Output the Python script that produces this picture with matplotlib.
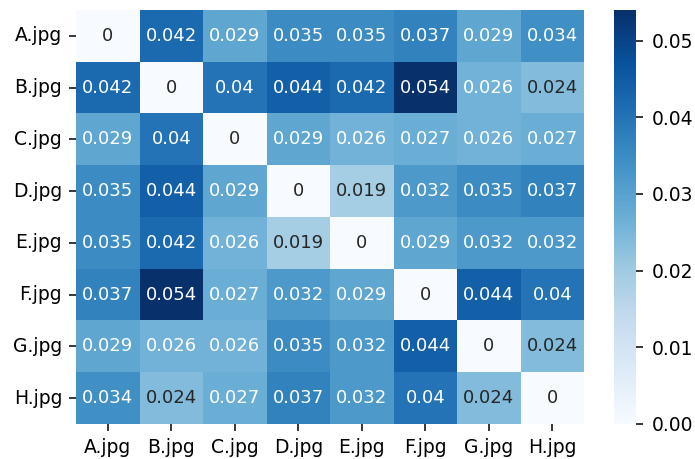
import numpy as np
import matplotlib
matplotlib.use("Agg")
import matplotlib.pyplot as plt
import seaborn as sns

# image names and pairwise distances
names = ["A.jpg", "B.jpg", "C.jpg", "D.jpg", "E.jpg", "F.jpg", "G.jpg", "H.jpg"]
row_a = [0, 0.042, 0.029, 0.035, 0.035, 0.037, 0.029, 0.034]
row_b = [0.042, 0, 0.040, 0.044, 0.042, 0.054, 0.026, 0.024]
row_c = [0.029, 0.040, 0, 0.029, 0.026, 0.027, 0.026, 0.027]
row_d = [0.035, 0.044, 0.029, 0, 0.019, 0.032, 0.035, 0.037]
row_e = [0.035, 0.042, 0.026, 0.019, 0, 0.029, 0.032, 0.032]
row_f = [0.037, 0.054, 0.027, 0.032, 0.029, 0, 0.044, 0.040]
row_g = [0.029, 0.026, 0.026, 0.035, 0.032, 0.044, 0, 0.024]
row_h = [0.034, 0.024, 0.027, 0.037, 0.032, 0.040, 0.024, 0]

dist = np.array([row_a, row_b, row_c, row_d, row_e, row_f, row_g, row_h])

fig = plt.figure(figsize=(6.95, 4.59), dpi=100)
ax = fig.add_axes([0.1094, 0.0763, 0.731, 0.902])
cax = fig.add_axes([0.8835, 0.0763, 0.0317, 0.902])

sns.heatmap(dist, annot=True, cmap="Blues", xticklabels=names, yticklabels=names,
            ax=ax, cbar_ax=cax, annot_kws={"size": 13})
ax.tick_params(labelsize=13.5, length=5, width=1.1, pad=5)
plt.setp(ax.get_yticklabels(), rotation=0)
cax.tick_params(labelsize=13.5, length=5, width=1.1, pad=6)
cax.yaxis.set_major_formatter(matplotlib.ticker.FormatStrFormatter("%.2f"))

fig.savefig("out.png")
